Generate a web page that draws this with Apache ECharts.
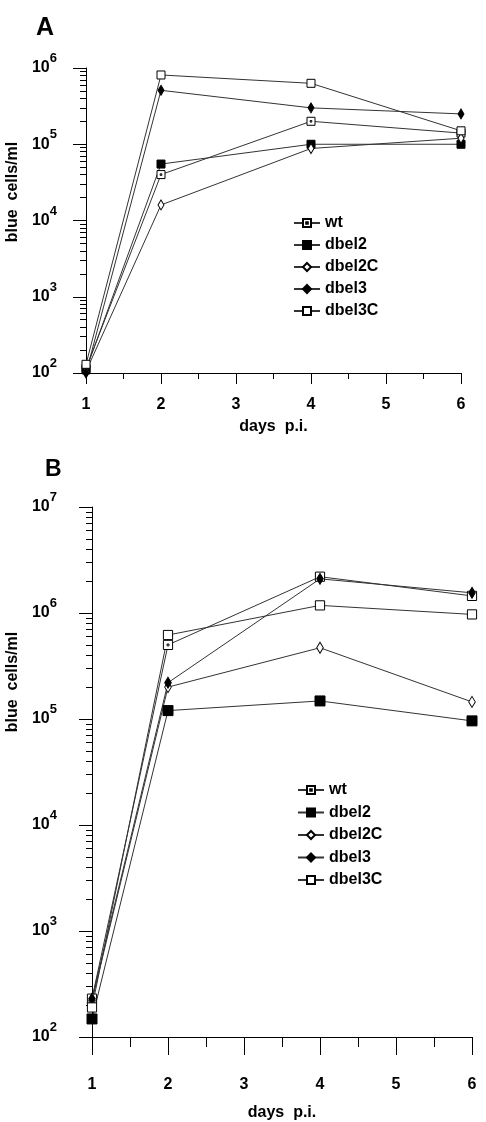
<!DOCTYPE html>
<html>
<head>
<meta charset="utf-8">
<script src="https://cdn.jsdelivr.net/npm/echarts@6/dist/echarts.min.js"></script>
<style>
html, body { margin: 0; padding: 0; background: #fff; }
#cellsChart { width: 486px; height: 1122px; }
</style>
</head>
<body>
<div id="cellsChart"></div>
<script>
// days p.i.
var days = [1, 2, 4, 6];
var dayTicks = [1, 2, 3, 4, 5, 6];
var seriesNames = ['wt', 'dbel2', 'dbel2C', 'dbel3', 'dbel3C'];

// panel A (blue cells/ml)
var wtA = [115, 40000, 200000, 140000];
var dbel2A = [110, 55000, 100000, 100000];
var dbel2CA = [105, 16000, 88000, 120000];
var dbel3A = [100, 510000, 300000, 250000];
var dbel3CA = [130, 810000, 630000, 150000];

// panel B (blue cells/ml)
var wtB = [230, 500000, 2200000, 1450000];
var dbel2B = [148, 120000, 148000, 96000];
var dbel2CB = [220, 200000, 470000, 145000];
var dbel3B = [230, 220000, 2100000, 1550000];
var dbel3CB = [190, 620000, 1180000, 970000];

// log axis ranges (exponents) and minor tick multipliers
var decadesA = [2, 3, 4, 5, 6];
var decadesB = [2, 3, 4, 5, 6, 7];
var minorSteps = [2, 3, 4, 5, 6, 7, 8, 9];

var FONT = '"Liberation Sans", Arial, sans-serif';

var markers = {
  wt: { symbol: 'path://M0,0H10V10H0Z M4,4H6V6H4Z', size: 8, fill: '#fff' },
  dbel2: { symbol: 'rect', size: 8, fill: '#000' },
  dbel2C: { symbol: 'diamond', size: [6, 10], fill: '#fff' },
  dbel3: { symbol: 'diamond', size: [6, 10], fill: '#000' },
  dbel3C: { symbol: 'rect', size: 8, fill: '#fff' }
};

function pairs (values) {
  var out = [];
  for (var i = 0; i < days.length; i++) {
    out.push([days[i], values[i]]);
  }
  return out;
}

function minorLogTicks (decades) {
  var ticks = [];
  for (var i = 0; i < decades.length - 1; i++) {
    for (var j = 0; j < minorSteps.length; j++) {
      ticks.push(decades[i] + Math.log10(minorSteps[j]));
    }
  }
  return ticks;
}

function makeSeries (name, values, xIdx, yIdx, scale) {
  var m = markers[name];
  var size = Array.isArray(m.size) ? [m.size[0] * scale, m.size[1] * scale] : m.size * scale;
  return {
    name: name,
    type: 'line',
    xAxisIndex: xIdx,
    yAxisIndex: yIdx,
    data: pairs(values),
    symbol: m.symbol,
    symbolSize: size,
    showAllSymbol: true,
    lineStyle: { color: '#333', width: 1 },
    itemStyle: { color: m.fill, borderColor: '#000', borderWidth: 1 },
    emphasis: { disabled: true },
    z: 3
  };
}

function supLabel (value) {
  var e = Math.round(Math.log10(value));
  return '{b|10}{s|' + e + '}';
}

var labelRich = {
  b: { fontSize: 16, fontWeight: 'bold', fontFamily: FONT, color: '#000', lineHeight: 24, verticalAlign: 'bottom' },
  s: { fontSize: 13, fontWeight: 'bold', fontFamily: FONT, color: '#000', lineHeight: 24, verticalAlign: 'top' }
};

function logAxis (grid, decades, margin, nameGap, shift) {
  return {
    type: 'log',
    logBase: 10,
    gridIndex: grid,
    min: Math.pow(10, decades[0]),
    max: Math.pow(10, decades[decades.length - 1]),
    name: 'blue  cells/ml',
    nameLocation: 'middle',
    nameGap: nameGap,
    nameTextStyle: {
      fontSize: 16, fontWeight: 'bold', fontFamily: FONT, color: '#000',
      padding: [0, 0, 0, shift]
    },
    axisLine: { show: true, lineStyle: { color: '#000', width: 1 } },
    axisTick: { show: true, length: 13, lineStyle: { color: '#000' } },
    axisLabel: { formatter: supLabel, rich: labelRich, margin: margin, padding: [0, 0, 8, 0] },
    splitLine: { show: false }
  };
}

// hidden helper axis that only draws the short ticks at 2..9 x 10^n
function minorAxis (grid, decades) {
  return {
    type: 'value',
    gridIndex: grid,
    position: 'left',
    min: decades[0],
    max: decades[decades.length - 1],
    axisLine: { show: false },
    axisLabel: { show: false },
    splitLine: { show: false },
    axisTick: { show: true, length: 6, customValues: minorLogTicks(decades), lineStyle: { color: '#000' } }
  };
}

function dayAxis (grid, tickLen, minorLen, labelMargin, nameGap) {
  return {
    type: 'value',
    gridIndex: grid,
    min: 1,
    max: 6,
    interval: 1,
    name: 'days  p.i.',
    nameLocation: 'middle',
    nameGap: nameGap,
    nameTextStyle: { fontSize: 16, fontWeight: 'bold', fontFamily: FONT, color: '#000' },
    axisLine: { show: true, lineStyle: { color: '#000', width: 1 } },
    axisTick: { show: true, length: tickLen, lineStyle: { color: '#000' } },
    minorTick: { show: true, splitNumber: 2, length: minorLen, lineStyle: { color: '#000' } },
    axisLabel: {
      margin: labelMargin, fontSize: 16, fontWeight: 'bold', fontFamily: FONT, color: '#000',
      customValues: dayTicks
    },
    splitLine: { show: false },
    minorSplitLine: { show: false }
  };
}

var cellsChart = echarts.init(document.getElementById('cellsChart'), null, { renderer: 'canvas' });

var option = {
  animation: false,
  backgroundColor: '#fff',
  title: [
    { text: 'A', left: 36, top: 16, padding: 0, textStyle: { fontSize: 25, fontWeight: 'bold', fontFamily: FONT, color: '#000' } },
    { text: 'B', left: 45, top: 458, padding: 0, textStyle: { fontSize: 23, fontWeight: 'bold', fontFamily: FONT, color: '#000' } }
  ],
  legend: [
    {
      data: seriesNames, orient: 'vertical', left: 293, top: 215, padding: 0,
      itemWidth: 26, itemHeight: 10, itemGap: 6,
      selectedMode: false,
      textStyle: { fontSize: 16, fontWeight: 'bold', fontFamily: FONT, color: '#000', lineHeight: 16 }
    },
    {
      data: seriesNames, orient: 'vertical', left: 297, top: 782, padding: 0,
      itemWidth: 26, itemHeight: 10, itemGap: 6.5,
      selectedMode: false,
      textStyle: { fontSize: 16, fontWeight: 'bold', fontFamily: FONT, color: '#000', lineHeight: 16 }
    }
  ],
  grid: [
    { left: 86, top: 68, width: 375, height: 305, outerBoundsMode: 'none' },
    { left: 92, top: 507, width: 380, height: 530, outerBoundsMode: 'none' }
  ],
  xAxis: [
    dayAxis(0, 11, 6, 24, 46),
    dayAxis(1, 18, 10, 40, 68)
  ],
  yAxis: [
    logAxis(0, decadesA, 29, 63, 57),
    minorAxis(0, decadesA),
    logAxis(1, decadesB, 35, 71, 180),
    minorAxis(1, decadesB)
  ],
  series: [
    makeSeries('wt', wtA, 0, 0, 1),
    makeSeries('dbel2', dbel2A, 0, 0, 1),
    makeSeries('dbel2C', dbel2CA, 0, 0, 1),
    makeSeries('dbel3', dbel3A, 0, 0, 1),
    makeSeries('dbel3C', dbel3CA, 0, 0, 1),
    makeSeries('wt', wtB, 1, 2, 1.15),
    makeSeries('dbel2', dbel2B, 1, 2, 1.25),
    makeSeries('dbel2C', dbel2CB, 1, 2, 1.1),
    makeSeries('dbel3', dbel3B, 1, 2, 1.1),
    makeSeries('dbel3C', dbel3CB, 1, 2, 1.15)
  ]
};

cellsChart.setOption(option);
</script>
</body>
</html>
